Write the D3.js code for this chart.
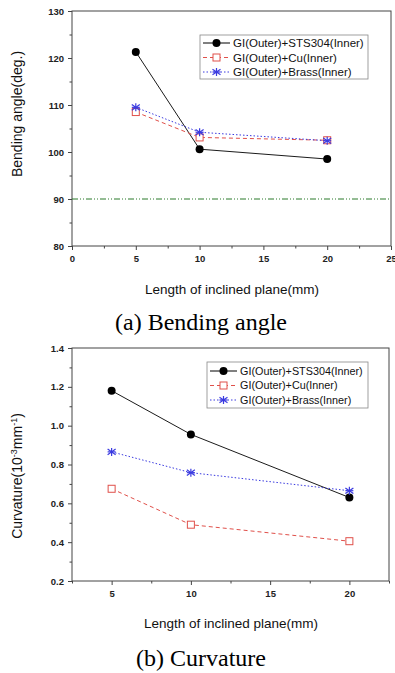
<!DOCTYPE html>
<html><head><meta charset="utf-8">
<script src="https://cdn.jsdelivr.net/npm/d3@7"></script>
<style>body{margin:0;background:#fff}svg{display:block}</style>
</head><body>
<script>
const lengths = [5, 10, 20];
const seriesNames = ["GI(Outer)+STS304(Inner)", "GI(Outer)+Cu(Inner)", "GI(Outer)+Brass(Inner)"];
const angleSTS = [121.3, 100.6, 98.5];
const angleCu = [108.5, 103.1, 102.5];
const angleBrass = [109.5, 104.2, 102.4];
const curvSTS = [1.18, 0.955, 0.63];
const curvCu = [0.675, 0.49, 0.405];
const curvBrass = [0.865, 0.758, 0.665];
const refAngle = 90;
const angleTicks = [80, 90, 100, 110, 120, 130];
const angleXTicks = [0, 5, 10, 15, 20, 25];
const curvTicks = [0.2, 0.4, 0.6, 0.8, 1.0, 1.2, 1.4];
const curvXTicks = [5, 10, 15, 20];

const svg = d3.select("body").append("svg").attr("width", 395).attr("height", 673);
const styles = [
  {color:"#000", dash:null, marker:"circle"},
  {color:"#e0504a", dash:"4,3", marker:"square"},
  {color:"#3a3ae0", dash:"1.5,2", marker:"star"}
];

function marker(g, type, x, y, color){
  if(type==="circle") g.append("circle").attr("cx",x).attr("cy",y).attr("r",4).attr("fill","#000");
  else if(type==="square") g.append("rect").attr("x",x-3.5).attr("y",y-3.5).attr("width",7).attr("height",7).attr("fill","#fff").attr("stroke",color).attr("stroke-width",1);
  else {
    const s=4;
    [[0,-s,0,s],[-s,-s*0.7,s,s*0.7],[-s,s*0.7,s,-s*0.7],[-s,0,s,0]].forEach(d=>{
      g.append("line").attr("x1",x+d[0]).attr("y1",y+d[1]).attr("x2",x+d[2]).attr("y2",y+d[3]).attr("stroke",color).attr("stroke-width",1.2);
    });
  }
}

function panel(o){
  const g = svg.append("g");
  const x = d3.scaleLinear().domain(o.xdom).range([o.left, o.right]);
  const y = d3.scaleLinear().domain(o.ydom).range([o.bottom, o.top]);
  g.append("rect").attr("x",o.left).attr("y",o.top).attr("width",o.right-o.left).attr("height",o.bottom-o.top)
    .attr("fill","none").attr("stroke","#444").attr("stroke-width",1);
  const xa = g.append("g").attr("transform",`translate(0,${o.bottom})`)
    .call(d3.axisBottom(x).tickValues(o.xticks).tickSize(4).tickFormat(d3.format("d")));
  const xm = g.append("g").attr("transform",`translate(0,${o.bottom})`)
    .call(d3.axisBottom(x).tickValues(o.xminor).tickSize(2.5).tickFormat(""));
  const ya = g.append("g").attr("transform",`translate(${o.left},0)`)
    .call(d3.axisLeft(y).tickValues(o.yticks).tickSize(4).tickFormat(o.yfmt));
  const ym = g.append("g").attr("transform",`translate(${o.left},0)`)
    .call(d3.axisLeft(y).tickValues(o.yminor).tickSize(2.5).tickFormat(""));
  [xa,xm,ya,ym].forEach(a=>{a.select(".domain").remove(); a.selectAll("line").attr("stroke","#444");});
  [xa,ya].forEach(a=>a.selectAll("text").attr("font-family","Liberation Sans, Arial, sans-serif").attr("font-size",9.5).attr("font-weight","bold").attr("fill","#222"));
  xa.selectAll("text").attr("dy","0.9em");
  ya.selectAll("text").attr("dx","-1");
  if(o.ref!=null){
    g.append("line").attr("x1",o.left).attr("x2",o.right).attr("y1",y(o.ref)).attr("y2",y(o.ref))
      .attr("stroke","#2a7a2a").attr("stroke-width",1).attr("stroke-dasharray","6,2,1,2,1,2");
  }
  o.data.forEach((vals,i)=>{
    const st = styles[i];
    const pts = lengths.map((l,j)=>[x(l), y(vals[j])]);
    g.append("path").attr("d", d3.line()(pts)).attr("fill","none").attr("stroke", st.color)
      .attr("stroke-width", i===0?0.9:1).attr("stroke-dasharray", st.dash);
    pts.forEach(p=>marker(g, st.marker, p[0], p[1], st.color));
  });
  const L = o.legend;
  g.append("rect").attr("x",L.x).attr("y",L.y).attr("width",L.w).attr("height",L.h).attr("fill","#fff").attr("stroke","#888").attr("stroke-width",0.8);
  seriesNames.forEach((n,i)=>{
    const st=styles[i]; const yy=L.y+L.first+i*L.step;
    g.append("line").attr("x1",L.x+3).attr("x2",L.x+L.lw).attr("y1",yy).attr("y2",yy).attr("stroke",st.color).attr("stroke-width",1).attr("stroke-dasharray",st.dash);
    marker(g, st.marker, L.x+3+(L.lw-3)/2, yy, st.color);
    g.append("text").attr("x",L.x+L.lw+3).attr("y",yy).attr("dy","0.35em").text(n)
      .attr("font-family","Liberation Sans, Arial, sans-serif").attr("font-size",L.fs).attr("fill","#111");
  });
  g.append("text").attr("transform",`translate(${o.ylx},${o.yly}) rotate(-90)`).attr("text-anchor","middle").attr("dy","0.35em")
    .attr("font-family","Liberation Sans, Arial, sans-serif").attr("font-size",14).attr("fill","#111").html(o.ylabel);
  g.append("text").attr("x",o.xlx).attr("y",o.xly).attr("text-anchor","middle").attr("dy","0.35em")
    .attr("font-family","Liberation Sans, Arial, sans-serif").attr("font-size",13.5).attr("fill","#111").text("Length of inclined plane(mm)");
  g.append("text").attr("x",o.capx).attr("y",o.capy).attr("text-anchor","middle").attr("dy","0.35em")
    .attr("font-family","Liberation Serif, Times New Roman, serif").attr("font-size",24).attr("fill","#000").text(o.caption);
}

panel({
  xdom:[0,25], ydom:[80,130], left:72, right:391, top:11, bottom:246,
  xticks:angleXTicks, xminor:d3.range(2.5,25,5), yticks:angleTicks, yminor:d3.range(85,130,10),
  yfmt:d3.format("d"), ref:refAngle,
  data:[angleSTS, angleCu, angleBrass],
  legend:{x:200,y:35,w:168,h:44,first:8,step:14.5,lw:30,fs:11.5},
  ylabel:"Bending angle(deg.)", ylx:17, yly:114, xlx:232, xly:289,
  caption:"(a) Bending angle", capx:201, capy:322
});
panel({
  xdom:[2.5,22.5], ydom:[0.2,1.4], left:72, right:389, top:348, bottom:581,
  xticks:curvXTicks, xminor:[2.5,7.5,12.5,17.5,22.5], yticks:curvTicks, yminor:d3.range(0.3,1.4,0.2),
  yfmt:d3.format(".1f"), ref:null,
  data:[curvSTS, curvCu, curvBrass],
  legend:{x:207,y:362,w:161,h:46,first:9,step:14.5,lw:30,fs:10.8},
  ylabel:"Curvature(10<tspan baseline-shift='super' font-size='9'>-3</tspan>mm<tspan baseline-shift='super' font-size='9'>-1</tspan>)",
  ylx:17, yly:476, xlx:231, xly:623,
  caption:"(b) Curvature", capx:201, capy:658
});
</script>
</body></html>
